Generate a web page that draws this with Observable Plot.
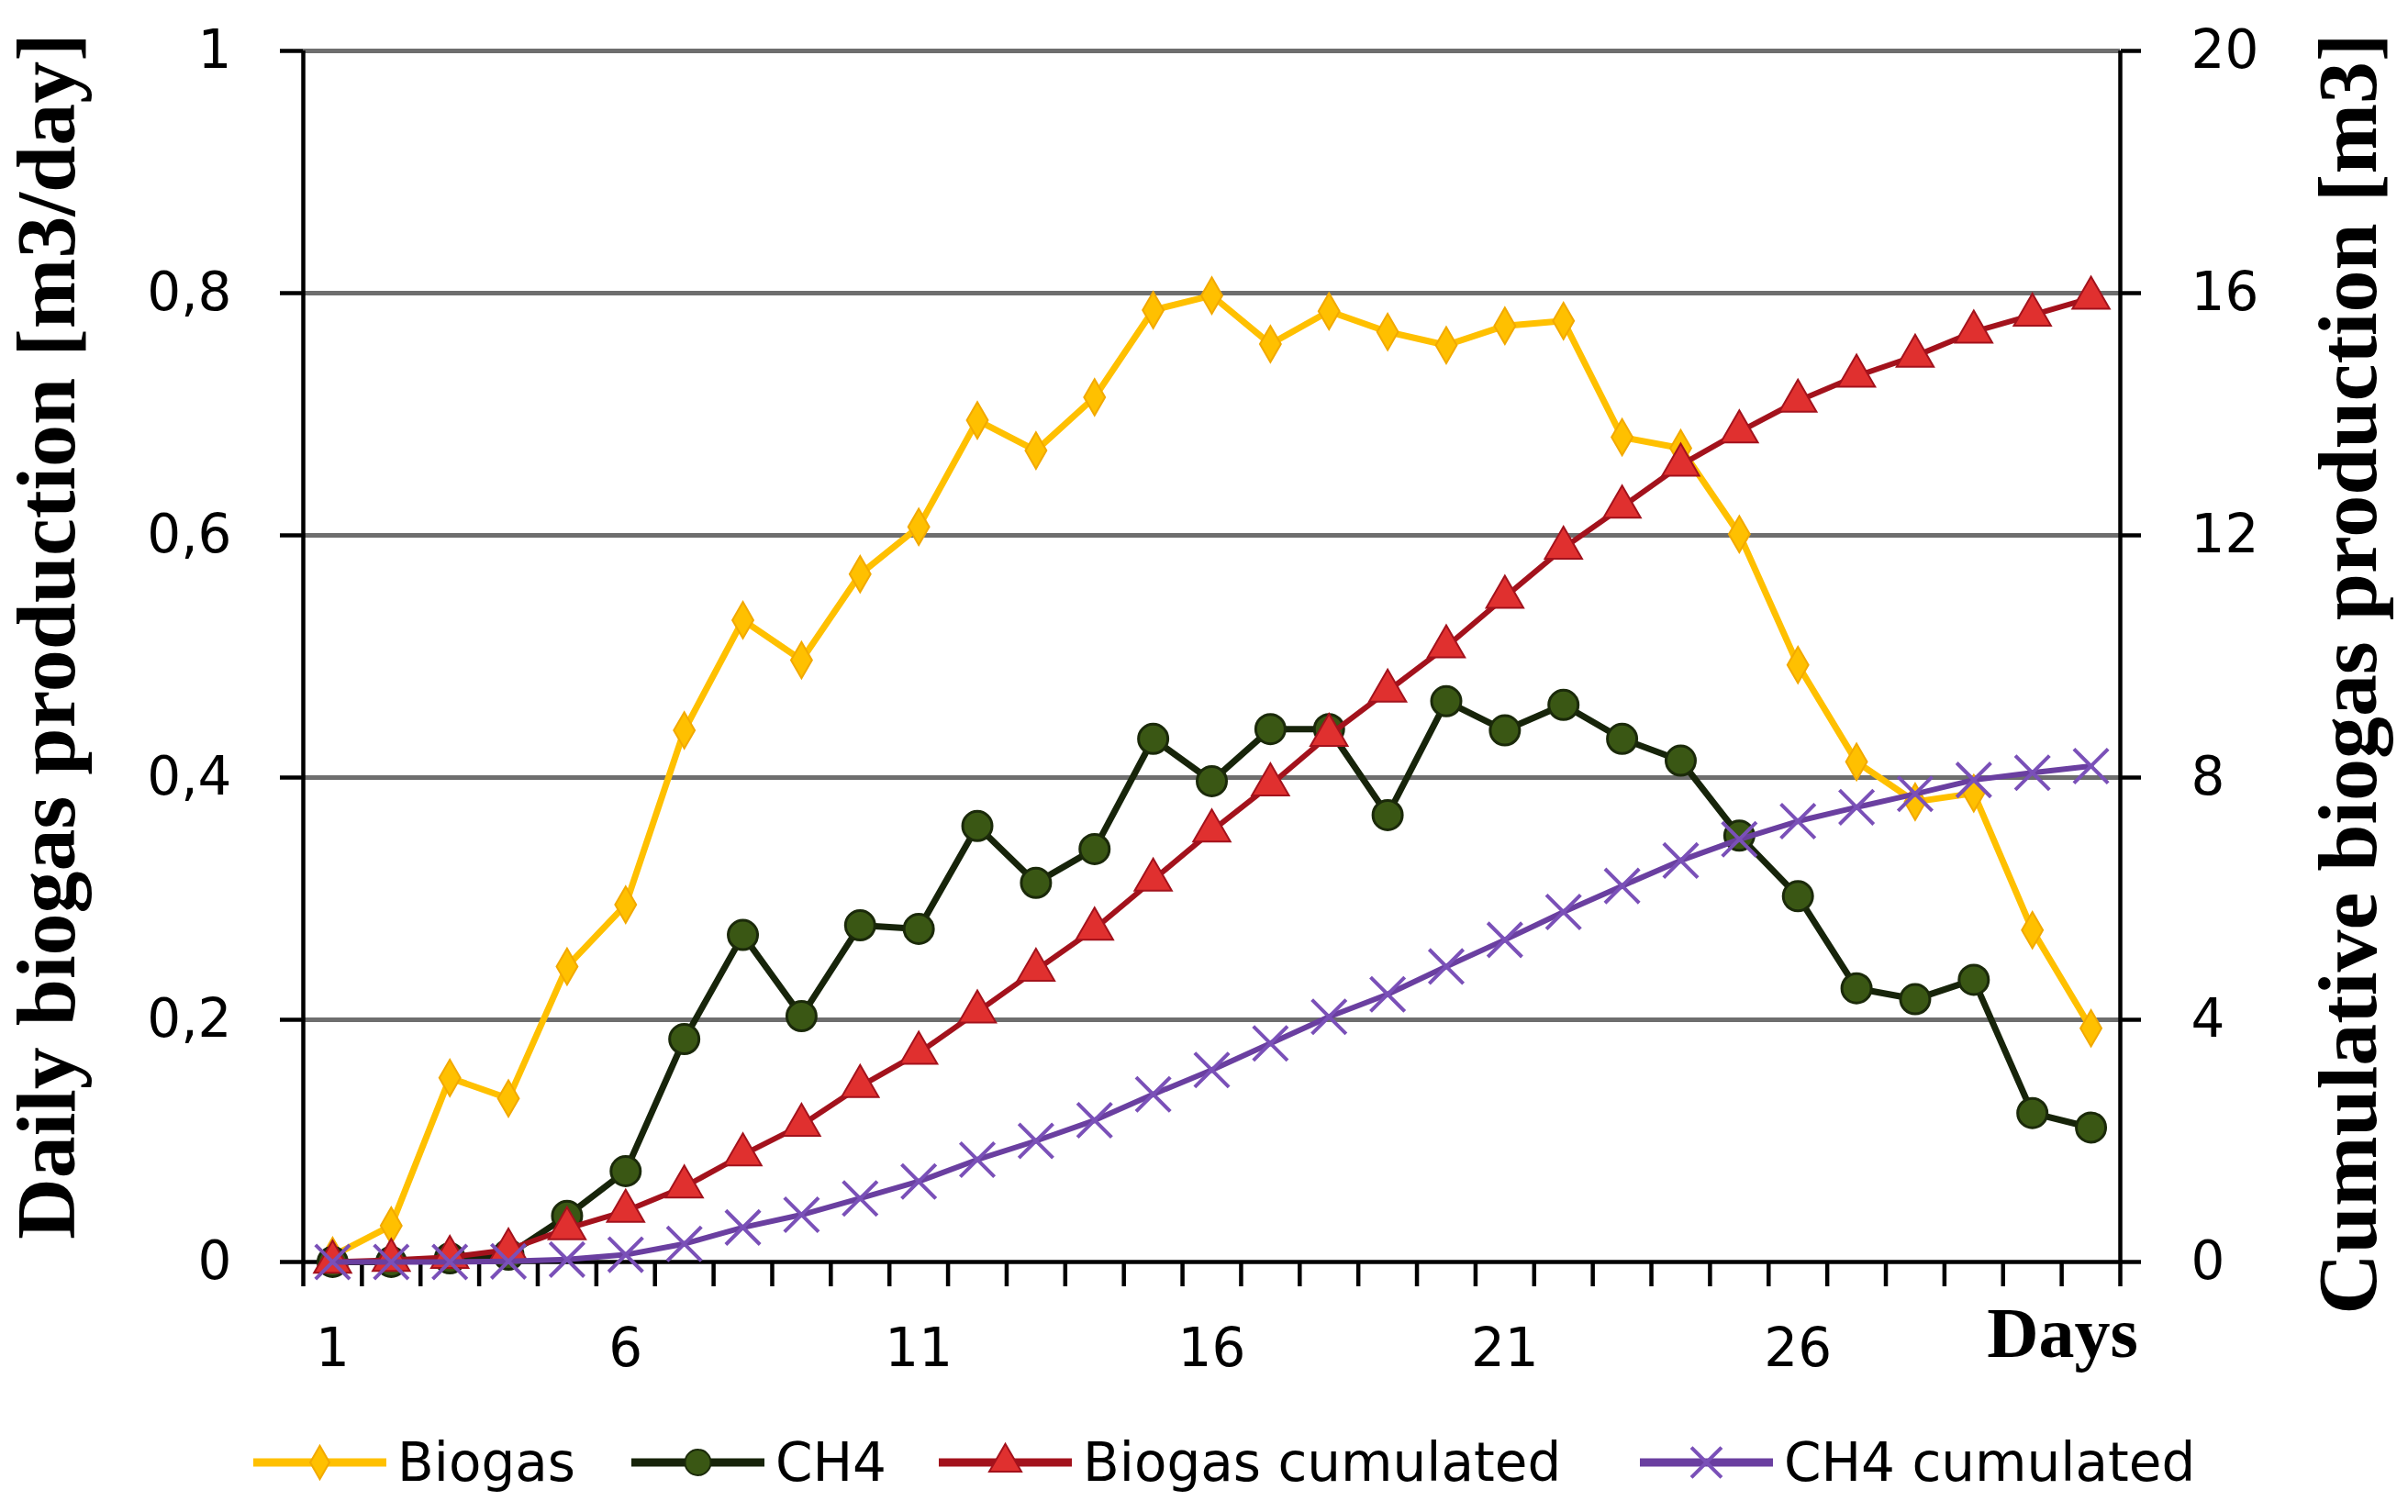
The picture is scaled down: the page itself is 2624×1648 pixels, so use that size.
<!DOCTYPE html>
<html>
<head>
<meta charset="utf-8">
<script src="https://cdn.jsdelivr.net/npm/d3@7"></script>
<script src="https://cdn.jsdelivr.net/npm/@observablehq/plot@0.6"></script>
<style>
  html, body { margin: 0; padding: 0; background: #ffffff; }
  #wrap { width: 2624px; position: relative; }
  #legend { position: relative; width: 2624px; height: 108px; font-family: "DejaVu Sans", sans-serif; font-size: 58px; color: #000; }
  .item { position: absolute; top: 0; height: 108px; display: flex; align-items: center; }
  .item svg { display: block; }
  .item span { margin-left: 12px; line-height: 1; }
</style>
</head>
<body>
<div id="wrap">
  <div id="chart"></div>
  <div id="legend"></div>
</div>
<script>
// ---- data ----
const days = d3.range(1, 32);
const biogas = [0.005, 0.03, 0.152, 0.135, 0.244, 0.295, 0.439, 0.53, 0.497, 0.568, 0.607, 0.695, 0.67, 0.714, 0.786, 0.798, 0.758, 0.785, 0.768, 0.757, 0.773, 0.777, 0.681, 0.672, 0.601, 0.493, 0.413, 0.38, 0.387, 0.274, 0.193];
const ch4 = [0, 0, 0.003, 0.006, 0.038, 0.075, 0.184, 0.27, 0.203, 0.278, 0.275, 0.36, 0.313, 0.341, 0.432, 0.397, 0.44, 0.44, 0.369, 0.463, 0.439, 0.46, 0.432, 0.414, 0.352, 0.302, 0.226, 0.217, 0.233, 0.123, 0.111];
const biogasCum = [0, 0.03, 0.08, 0.2, 0.55, 0.84, 1.24, 1.77, 2.26, 2.9, 3.45, 4.13, 4.82, 5.5, 6.31, 7.12, 7.88, 8.7, 9.43, 10.16, 10.98, 11.79, 12.47, 13.16, 13.71, 14.22, 14.63, 14.96, 15.36, 15.64, 15.92];
const ch4Cum = [0, 0, 0, 0.01, 0.04, 0.12, 0.3, 0.57, 0.78, 1.05, 1.33, 1.69, 2.0, 2.34, 2.77, 3.17, 3.61, 4.05, 4.42, 4.88, 5.32, 5.78, 6.21, 6.63, 6.98, 7.28, 7.51, 7.73, 7.96, 8.08, 8.19];
const leftTicks = [0, 0.2, 0.4, 0.6, 0.8, 1];
const rightMax = 20;
const xLabels = [1, 6, 11, 16, 21, 26];
const seriesNames = ["Biogas", "CH4", "Biogas cumulated", "CH4 cumulated"];
const leftTitle = "Daily biogas production [m3/day]";
const rightTitle = "Cumulative biogas production [m3]";
const xTitle = "Days";

// ---- styles ----
const col = {
  biogas: {line: "#FFC000", fill: "#FFC000", stroke: "#F2A900"},
  ch4: {line: "#17240A", fill: "#3A5714", stroke: "#1B2A0A"},
  bcum: {line: "#A3121C", fill: "#E0302F", stroke: "#A3121C"},
  ccum: {line: "#6A3FA0", fill: "none", stroke: "#7A50B8"}
};

const rows = days.map((d, i) => ({
  day: d,
  biogas: biogas[i],
  ch4: ch4[i],
  bcum: biogasCum[i] / rightMax,
  ccum: ch4Cum[i] / rightMax
}));
const boundaries = d3.range(0.5, days.length + 1, 1);
const fmtLeft = d => d3.format("~g")(d).replace(".", ",");
const serif = "'Liberation Serif', 'Times New Roman', serif";
const sans = "'DejaVu Sans', sans-serif";

const W = 2624, H = 1540;
const chart = Plot.plot({
  width: W,
  height: H,
  marginLeft: 330,
  marginRight: 314,
  marginTop: 55,
  marginBottom: 165,
  style: {background: "#ffffff", fontFamily: sans, fontSize: "58px", color: "#000"},
  x: {type: "linear", domain: [0.5, days.length + 0.5], label: null},
  y: {domain: [0, 1], label: null},
  marks: [
    Plot.ruleY(leftTicks.filter(d => d > 0), {stroke: "#6e6e6e", strokeWidth: 5}),
    Plot.ruleX([0.5, days.length + 0.5], {stroke: "#000", strokeWidth: 4.5}),
    Plot.ruleY([0], {stroke: "#000", strokeWidth: 4.5}),
    Plot.axisY({anchor: "left", label: null, ticks: leftTicks, tickFormat: fmtLeft, tickSize: 25, tickPadding: 53, strokeWidth: 4.5, fontSize: 58, fontFamily: sans, fill: "#000"}),
    Plot.axisY({anchor: "right", label: null, ticks: leftTicks, tickFormat: d => String(Math.round(d * rightMax)), tickSize: 22, tickPadding: 55, strokeWidth: 4.5, fontSize: 58, fontFamily: sans, fill: "#000"}),
    Plot.axisX({anchor: "bottom", label: null, ticks: boundaries, tickFormat: () => "", tickSize: 27, strokeWidth: 4.5}),
    Plot.axisX({anchor: "bottom", label: null, ticks: xLabels, tickFormat: d => String(d), tickSize: 0, tickPadding: 72, fontSize: 58, fontFamily: sans, fill: "#000"}),
    Plot.text([xTitle], {x: days[days.length - 1], y: 0, dx: -31, dy: 103, lineAnchor: "bottom", textAnchor: "middle", fontFamily: serif, fontWeight: "bold", fontSize: 78, fill: "#000"}),
    Plot.text([leftTitle], {frameAnchor: "left", dx: -250, dy: -22, rotate: -90, lineAnchor: "bottom", textAnchor: "middle", fontFamily: serif, fontWeight: "bold", fontSize: 92, fill: "#000"}),
    Plot.text([rightTitle], {frameAnchor: "right", dx: 278, dy: 19, rotate: -90, lineAnchor: "bottom", textAnchor: "middle", fontFamily: serif, fontWeight: "bold", fontSize: 92, fill: "#000"}),
    // Biogas
    Plot.line(rows, {x: "day", y: "biogas", stroke: col.biogas.line, strokeWidth: 7}),
    Plot.dot(rows, {x: "day", y: "biogas", symbol: "diamond", r: 12, fill: col.biogas.fill, stroke: col.biogas.stroke, strokeWidth: 2}),
    // CH4
    Plot.line(rows, {x: "day", y: "ch4", stroke: col.ch4.line, strokeWidth: 7}),
    Plot.dot(rows, {x: "day", y: "ch4", symbol: "circle", r: 16, fill: col.ch4.fill, stroke: col.ch4.stroke, strokeWidth: 3}),
    // Biogas cumulated
    Plot.line(rows, {x: "day", y: "bcum", stroke: col.bcum.line, strokeWidth: 6}),
    Plot.dot(rows, {x: "day", y: "bcum", symbol: "triangle", r: 15, fill: col.bcum.fill, stroke: col.bcum.stroke, strokeWidth: 2}),
    // CH4 cumulated
    Plot.line(rows, {x: "day", y: "ccum", stroke: col.ccum.line, strokeWidth: 6}),
    Plot.dot(rows, {x: "day", y: "ccum", symbol: "times", r: 17, fill: "none", stroke: col.ccum.stroke, strokeWidth: 4})
  ]
});
document.getElementById("chart").appendChild(chart);

// ---- legend ----
const legendSpec = [
  {name: seriesNames[0], c: col.biogas, sym: d3.symbolDiamond, size: Math.PI * 11 * 11, left: 276},
  {name: seriesNames[1], c: col.ch4, sym: d3.symbolCircle, size: Math.PI * 14 * 14, left: 688},
  {name: seriesNames[2], c: col.bcum, sym: d3.symbolTriangle, size: Math.PI * 13 * 13, left: 1023},
  {name: seriesNames[3], c: col.ccum, sym: d3.symbolTimes, size: Math.PI * 15 * 15, left: 1787}
];
const legend = d3.select("#legend");
legendSpec.forEach(s => {
  const item = legend.append("div").attr("class", "item").style("left", s.left + "px");
  const svg = item.append("svg").attr("width", 145).attr("height", 60);
  svg.append("line").attr("x1", 0).attr("x2", 145).attr("y1", 30).attr("y2", 30)
    .attr("stroke", s.c.line).attr("stroke-width", 9);
  const isStroke = s.sym === d3.symbolTimes;
  svg.append("path").attr("d", d3.symbol(s.sym, s.size)()).attr("transform", "translate(72.5,30)")
    .attr("fill", isStroke ? "none" : s.c.fill)
    .attr("stroke", s.c.stroke).attr("stroke-width", isStroke ? 4 : 2);
  item.append("span").text(s.name);
});
</script>
</body>
</html>
